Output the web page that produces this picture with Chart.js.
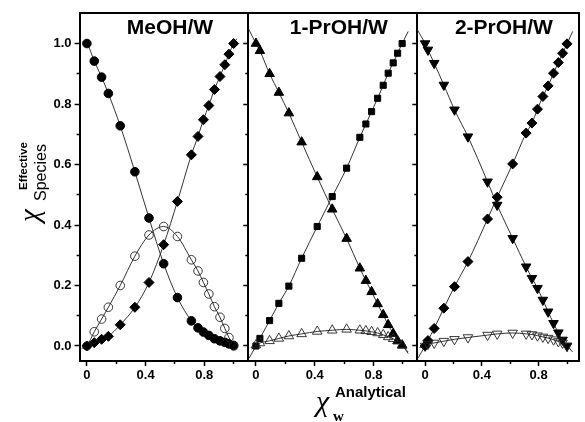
<!DOCTYPE html>
<html>
<head>
<meta charset="utf-8">
<script src="https://cdn.jsdelivr.net/npm/chart.js@4.4.1/dist/chart.umd.min.js"></script>
<style>
  html, body { margin: 0; padding: 0; background: #fff; }
  #wrap { position: relative; width: 585px; height: 422px; }
  #wrap canvas { position: absolute; left: 0; top: 0; }
</style>
</head>
<body>
<div id="wrap">
  <canvas id="c1" width="585" height="422"></canvas>
  <canvas id="c2" width="585" height="422"></canvas>
  <canvas id="c3" width="585" height="422"></canvas>
</div>
<script>
// ---------- values ----------
var panelNames = ['MeOH/W', '1-PrOH/W', '2-PrOH/W'];

// MeOH / water
var meohX       = [0, 0.05, 0.1, 0.146, 0.227, 0.327, 0.423, 0.523, 0.617, 0.712, 0.757, 0.794, 0.831, 0.869, 0.907, 0.94, 0.968, 1.0];
var meohAlcohol = [1.0, 0.942, 0.889, 0.835, 0.728, 0.576, 0.423, 0.272, 0.16, 0.083, 0.06, 0.046, 0.035, 0.024, 0.017, 0.012, 0.007, 0.002];
var meohWater   = [0, 0.011, 0.022, 0.032, 0.07, 0.128, 0.21, 0.335, 0.478, 0.632, 0.693, 0.748, 0.795, 0.848, 0.891, 0.93, 0.965, 1.0];
var meohMixed   = [0, 0.047, 0.089, 0.128, 0.2, 0.297, 0.367, 0.395, 0.362, 0.285, 0.248, 0.21, 0.172, 0.13, 0.095, 0.058, 0.028, 0.0];
// where the fitted curves start / stop beyond the markers
var meohAlcoholFitEnds = [[-0.03, 1.006], [1.026, -0.003]];
var meohWaterFitEnds   = [[-0.036, -0.008], [1.022, 1.016]];
var meohMixedFitEnds   = [[-0.016, -0.005], [1.022, -0.012]];

// 1-PrOH / water
var prop1X       = [0, 0.027, 0.093, 0.156, 0.224, 0.311, 0.417, 0.519, 0.617, 0.707, 0.748, 0.787, 0.828, 0.866, 0.9, 0.934, 0.964, 0.995];
var prop1Alcohol = [1.0, 0.976, 0.9, 0.838, 0.77, 0.674, 0.559, 0.452, 0.355, 0.257, 0.216, 0.179, 0.139, 0.103, 0.07, 0.041, 0.017, 0.002];
var prop1Water   = [0, 0.025, 0.084, 0.141, 0.198, 0.29, 0.395, 0.494, 0.588, 0.69, 0.734, 0.775, 0.819, 0.862, 0.902, 0.936, 0.968, 1.0];
var prop1Mixed   = [0.003, 0.01, 0.017, 0.025, 0.033, 0.04, 0.048, 0.052, 0.055, 0.052, 0.05, 0.047, 0.043, 0.037, 0.03, 0.024, 0.016, 0.003];
var prop1AlcoholFitEnds = [[-0.052, 1.05], [1.036, -0.02]];
var prop1WaterFitEnds   = [[-0.046, -0.04], [1.036, 1.04]];
var prop1MixedFitEnds   = [[-0.03, -0.01], [1.036, -0.025]];

// 2-PrOH / water
var prop2X       = [0, 0.02, 0.064, 0.132, 0.207, 0.302, 0.44, 0.508, 0.617, 0.712, 0.753, 0.792, 0.83, 0.867, 0.905, 0.939, 0.969, 1.0];
var prop2Alcohol = [1.0, 0.979, 0.935, 0.863, 0.781, 0.692, 0.543, 0.466, 0.356, 0.262, 0.224, 0.191, 0.152, 0.113, 0.075, 0.044, 0.02, 0.0];
var prop2Water   = [0, 0.018, 0.058, 0.125, 0.196, 0.279, 0.42, 0.492, 0.602, 0.704, 0.737, 0.783, 0.825, 0.86, 0.902, 0.937, 0.968, 0.999];
var prop2Mixed   = [0, 0.006, 0.01, 0.016, 0.022, 0.028, 0.036, 0.04, 0.043, 0.04, 0.038, 0.034, 0.03, 0.026, 0.021, 0.015, 0.01, 0.0];
var prop2AlcoholFitEnds = [[-0.054, 1.045], [1.03, -0.013]];
var prop2WaterFitEnds   = [[-0.05, -0.04], [1.04, 1.04]];
var prop2MixedFitEnds   = [[-0.04, -0.005], [1.04, -0.02]];

var xMajorTicks = [0, 0.4, 0.8];
var xMinorTicks = [0.2, 0.6, 1.0];
var yMajorTicks = [0, 0.2, 0.4, 0.6, 0.8, 1.0];
var yMinorTicks = [0.1, 0.3, 0.5, 0.7, 0.9];

// ---------- layout ----------
var W = 585, H = 422;
var plotTop = 13.3, plotBottom = 361.1;
var panels = [
  { left: 79.6,  right: 248.3, xmin: -0.05,  xmax: 1.10 },
  { left: 248.3, right: 417.3, xmin: -0.052, xmax: 1.098 },
  { left: 417.3, right: 584.3, xmin: -0.055, xmax: 1.081 }
];

Chart.defaults.font.family = "'Liberation Sans', Arial, sans-serif";
Chart.defaults.color = '#000';

function points(xs, ys) {
  return xs.map(function(x, i) { return { x: x, y: ys[i] }; });
}

function fitCurve(xs, ys, ends) {
  var pts = points(xs, ys);
  pts.unshift({ x: ends[0][0], y: ends[0][1] });
  pts.push({ x: ends[1][0], y: ends[1][1] });
  return pts;
}

function fixTicks(list) {
  return function(scale) {
    scale.ticks = list.map(function(v) { return { value: v }; });
  };
}

function lineSet(data) {
  return {
    data: data, showLine: true, pointRadius: 0, borderColor: '#333', borderWidth: 1,
    cubicInterpolationMode: 'monotone', order: 2
  };
}

function markerSet(data, style, radius, filled, rotation) {
  return {
    data: data, showLine: false, pointStyle: style, pointRadius: radius,
    pointRotation: rotation || 0,
    backgroundColor: filled ? '#000' : 'rgba(255,255,255,0)',
    borderColor: filled ? '#000' : '#222', borderWidth: filled ? 1 : 0.9, order: 1
  };
}

var panelLabel = {
  id: 'panelLabel',
  afterDraw: function(chart, args, opts) {
    var ctx = chart.ctx, a = chart.chartArea;
    ctx.save();
    ctx.font = "bold 21px 'Liberation Sans', Arial, sans-serif";
    ctx.fillStyle = '#000';
    ctx.textAlign = 'center';
    ctx.textBaseline = 'alphabetic';
    ctx.fillText(opts.text, (a.left + a.right) / 2 + 6, 34);
    ctx.restore();
  }
};

var axisTitles = {
  id: 'axisTitles',
  afterDraw: function(chart) {
    var ctx = chart.ctx;
    ctx.save();
    ctx.fillStyle = '#000';
    ctx.textBaseline = 'alphabetic';
    ctx.textAlign = 'left';
    // x title
    ctx.font = "italic 30px 'Liberation Serif', 'Times New Roman', serif";
    ctx.fillText('\u03c7', 316, 411);
    ctx.font = "bold 15px 'Liberation Sans', Arial, sans-serif";
    ctx.fillText('Analytical', 335, 397);
    ctx.font = "bold 15px 'Liberation Serif', 'Times New Roman', serif";
    ctx.fillText('w', 333, 421);
    // y title, rotated
    ctx.translate(39, 222);
    ctx.rotate(-Math.PI / 2);
    ctx.font = "italic 29px 'Liberation Serif', 'Times New Roman', serif";
    ctx.fillText('\u03c7', 0, 0);
    ctx.font = "16px 'Liberation Sans', Arial, sans-serif";
    ctx.fillText('Species', 21, 7);
    ctx.font = "bold 11.5px 'Liberation Sans', Arial, sans-serif";
    ctx.fillText('Effective', 32, -12);
    ctx.restore();
  }
};

function makePanel(canvasId, idx, xs, alc, wat, mix, alcEnds, watEnds, mixEnds, alcStyle, watStyle) {
  var p = panels[idx];
  var first = idx === 0;
  var tickFont = { size: 13, weight: 'bold' };
  var datasets = [
    lineSet(fitCurve(xs, alc, alcEnds)),
    lineSet(fitCurve(xs, wat, watEnds)),
    lineSet(fitCurve(xs, mix, mixEnds)),
    markerSet(points(xs, mix), alcStyle.open, alcStyle.r, false, alcStyle.rot),
    markerSet(points(xs, wat), watStyle.style, watStyle.r, true, 0),
    markerSet(points(xs, alc), alcStyle.style, alcStyle.r, true, alcStyle.rot)
  ];
  datasets.forEach(function(d) { d.xAxisID = 'x'; d.yAxisID = 'y'; });

  return new Chart(document.getElementById(canvasId), {
    type: 'scatter',
    data: { datasets: datasets },
    plugins: first ? [panelLabel, axisTitles] : [panelLabel],
    options: {
      responsive: false,
      animation: false,
      events: [],
      layout: {
        padding: {
          left: first ? 0 : p.left,
          right: W - p.right,
          top: plotTop,
          bottom: H - plotBottom - 30
        }
      },
      plugins: {
        legend: { display: false },
        tooltip: { enabled: false },
        panelLabel: { text: panelNames[idx] }
      },
      scales: {
        x: {
          type: 'linear', position: 'bottom', weight: 1, min: p.xmin, max: p.xmax,
          border: { display: true, color: '#000', width: 2 },
          grid: { drawOnChartArea: false, tickLength: 5, tickWidth: 1.5, tickColor: '#000' },
          ticks: {
            font: tickFont, color: '#000', padding: 2, maxRotation: 0,
            callback: function(v) { return v === 0 ? '0' : v.toFixed(1); }
          },
          afterBuildTicks: fixTicks(xMajorTicks),
          afterFit: function(s) { s.height = 30; }
        },
        xMinor: {
          type: 'linear', position: 'bottom', weight: 0, min: p.xmin, max: p.xmax,
          border: { display: false },
          grid: { drawOnChartArea: false, tickLength: 3, tickWidth: 1.5, tickColor: '#000' },
          ticks: { display: false },
          afterBuildTicks: fixTicks(xMinorTicks),
          afterFit: function(s) { s.height = 0; }
        },
        xTop: {
          type: 'linear', position: 'top', min: p.xmin, max: p.xmax,
          border: { display: true, color: '#000', width: 2 },
          grid: { drawOnChartArea: false, drawTicks: false },
          ticks: { display: false },
          afterFit: function(s) { s.height = 0; }
        },
        y: {
          type: 'linear', position: 'left', weight: 1, min: -0.05, max: 1.10,
          border: { display: true, color: '#000', width: 2 },
          grid: { drawOnChartArea: false, tickLength: 5, tickWidth: 1.5, tickColor: '#000' },
          ticks: {
            display: first, font: tickFont, color: '#000', padding: 3,
            callback: function(v) { return v.toFixed(1); }
          },
          afterBuildTicks: fixTicks(yMajorTicks),
          afterFit: function(s) { s.width = first ? p.left : 0; }
        },
        yMinor: {
          type: 'linear', position: 'left', weight: 0, min: -0.05, max: 1.10,
          border: { display: false },
          grid: { drawOnChartArea: false, tickLength: 3, tickWidth: 1.5, tickColor: '#000' },
          ticks: { display: false },
          afterBuildTicks: fixTicks(yMinorTicks),
          afterFit: function(s) { s.width = 0; }
        },
        yRight: {
          type: 'linear', position: 'right', min: -0.05, max: 1.10,
          border: { display: true, color: '#000', width: 2 },
          grid: { drawOnChartArea: false, drawTicks: false },
          ticks: { display: false },
          afterFit: function(s) { s.width = 0; }
        }
      }
    }
  });
}

makePanel('c1', 0, meohX, meohAlcohol, meohWater, meohMixed,
  meohAlcoholFitEnds, meohWaterFitEnds, meohMixedFitEnds,
  { style: 'circle', open: 'circle', r: 4.3, rot: 0 }, { style: 'rectRot', r: 5 });
makePanel('c2', 1, prop1X, prop1Alcohol, prop1Water, prop1Mixed,
  prop1AlcoholFitEnds, prop1WaterFitEnds, prop1MixedFitEnds,
  { style: 'triangle', open: 'triangle', r: 5.5, rot: 0 }, { style: 'rect', r: 4.3 });
makePanel('c3', 2, prop2X, prop2Alcohol, prop2Water, prop2Mixed,
  prop2AlcoholFitEnds, prop2WaterFitEnds, prop2MixedFitEnds,
  { style: 'triangle', open: 'triangle', r: 5.5, rot: 180 }, { style: 'rectRot', r: 5 });
</script>
</body>
</html>
